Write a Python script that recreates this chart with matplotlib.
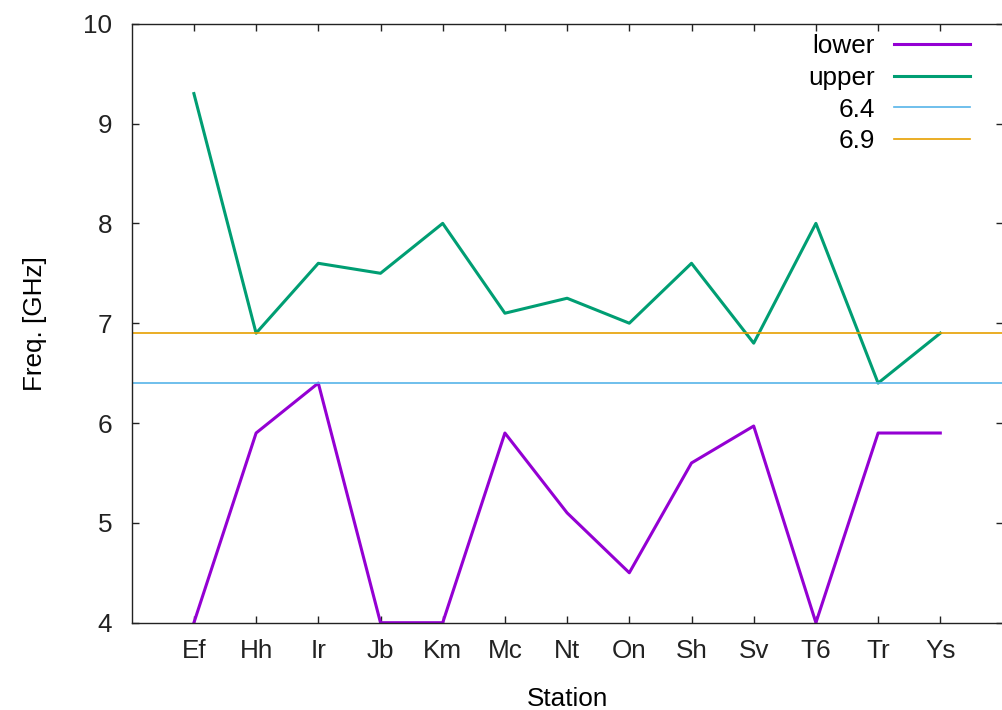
import matplotlib.pyplot as plt
import numpy as np

plt.rcParams['font.family'] = ['Liberation Sans', 'DejaVu Sans']

stations = ['Ef', 'Hh', 'Ir', 'Jb', 'Km', 'Mc', 'Nt', 'On', 'Sh', 'Sv', 'T6', 'Tr', 'Ys']
lower = [4.0, 5.9, 6.4, 4.0, 4.0, 5.9, 5.1, 4.5, 5.6, 5.97, 4.0, 5.9, 5.9]
upper = [9.3, 6.9, 7.6, 7.5, 8.0, 7.1, 7.25, 7.0, 7.6, 6.8, 8.0, 6.4, 6.9]
ref_lines = [6.4, 6.9]

fs = 18.8
fig = plt.figure(figsize=(10.03, 7.10), dpi=100)
ax = fig.add_axes([131.7 / 1003, (710 - 622.7) / 710,
                   (1002.5 - 131.7) / 1003, (622.7 - 23.7) / 710])

x = np.arange(len(stations))
ax.plot(x, lower, color='#9400d3', lw=2.2, label='lower')
ax.plot(x, upper, color='#009e73', lw=2.2, label='upper')
ax.axhline(ref_lines[0], color='#56b4e9', lw=1.2, label='6.4')
ax.axhline(ref_lines[1], color='#e69f00', lw=1.2, label='6.9')

ax.set_xlim(-1, len(stations))
ax.set_ylim(4, 10)
ax.set_xticks(x)
ax.set_xticklabels(stations)
ax.set_yticks(np.arange(4, 11, 1))
ax.tick_params(direction='in', length=5, width=1, top=True, right=True,
               labelsize=fs, colors='#222222')
ax.tick_params(axis='y', pad=14)
ax.tick_params(axis='x', pad=12)
for s in ax.spines.values():
    s.set_linewidth(1)
    s.set_color('#222222')

ax.set_xlabel('Station', fontsize=fs, labelpad=17)
ax.set_ylabel('Freq. [GHz]', fontsize=fs, labelpad=26)

ax.legend(loc='upper right', frameon=False, markerfirst=False, fontsize=fs,
          handlelength=2.9, handletextpad=0.75, labelspacing=0.3,
          borderpad=0, borderaxespad=0, bbox_to_anchor=(0.9627, 0.983))

fig.savefig('out.png', dpi=100)
